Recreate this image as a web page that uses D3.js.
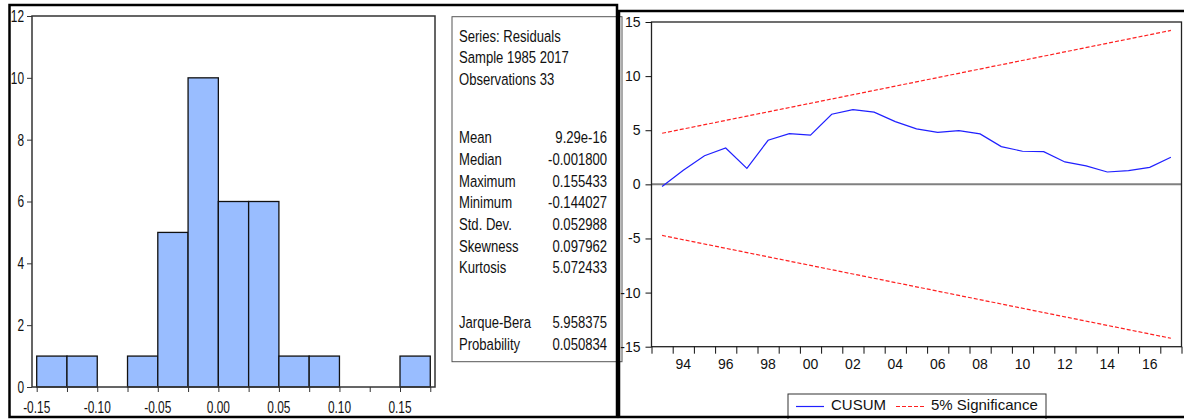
<!DOCTYPE html>
<html>
<head>
<meta charset="utf-8">
<script src="https://cdn.jsdelivr.net/npm/d3@7"></script>
<style>
  body { margin: 0; background: #fff; }
  svg { display: block; font-family: "Liberation Sans", Arial, sans-serif; }
</style>
</head>
<body>
<div id="chart"></div>
<script>
// histogram of residuals (bins of 0.025)
var binStart = [-0.150, -0.125, -0.100, -0.075, -0.050, -0.025, 0.000, 0.025, 0.050, 0.075, 0.100, 0.125, 0.150];
var binCount = [1, 1, 0, 1, 5, 10, 6, 6, 1, 1, 0, 0, 1];
var histXTicks = [-0.15, -0.10, -0.05, 0.00, 0.05, 0.10, 0.15];
var histYTicks = [0, 2, 4, 6, 8, 10, 12];

// summary statistics box
var headLines = ["Series: Residuals", "Sample 1985 2017", "Observations 33"];
var statNames = ["Mean", "Median", "Maximum", "Minimum", "Std. Dev.", "Skewness", "Kurtosis"];
var statValues = ["9.29e-16", "-0.001800", "0.155433", "-0.144027", "0.052988", "0.097962", "5.072433"];
var testNames = ["Jarque-Bera", "Probability"];
var testValues = ["5.958375", "0.050834"];

// CUSUM test
var years = [1993, 1994, 1995, 1996, 1997, 1998, 1999, 2000, 2001, 2002, 2003, 2004,
             2005, 2006, 2007, 2008, 2009, 2010, 2011, 2012, 2013, 2014, 2015, 2016, 2017];
var cusum = [-0.2, 1.3, 2.65, 3.36, 1.48, 4.07, 4.69, 4.54, 6.48, 6.91, 6.67, 5.8,
             5.12, 4.81, 4.97, 4.66, 3.49, 3.06, 3.02, 2.07, 1.7, 1.14, 1.27, 1.57, 2.5];
var boundYears = [1993, 2017];
var upper = [4.72, 14.22];
var lower = [-4.72, -14.22];
var cusumYTicks = [-15, -10, -5, 0, 5, 10, 15];
var yearLabels = ["94", "96", "98", "00", "02", "04", "06", "08", "10", "12", "14", "16"];

var W = 1184, H = 419;
var svg = d3.select("#chart").append("svg")
    .attr("width", W)
    .attr("height", H);

svg.append("rect").attr("width", W).attr("height", H).attr("fill", "white");

// narrow the text horizontally (EViews uses a condensed face)
function squeeze(sel, k) {
  sel.each(function() {
    var t = d3.select(this);
    var x = +t.attr("x") || 0, y = +t.attr("y") || 0;
    t.attr("transform", "translate(" + x + "," + y + ") scale(" + k + ",1)")
     .attr("x", 0).attr("y", 0);
  });
}

// ---------- left panel: histogram ----------
var hx = d3.scaleLinear().domain([-0.15388, 0.1789]).range([32, 435]);
var hy = d3.scaleLinear().domain([0, 12]).range([387, 16]);

var hist = svg.append("g");
var bins = binStart.map((d, i) => ({x0: d, n: binCount[i]})).filter(d => d.n > 0);

hist.selectAll("rect.bar")
  .data(bins)
  .enter().append("rect")
    .attr("class", "bar")
    .attr("x", d => hx(d.x0))
    .attr("y", d => hy(d.n))
    .attr("width", d => hx(d.x0 + 0.025) - hx(d.x0))
    .attr("height", d => hy(0) - hy(d.n))
    .attr("fill", "#99bdff")
    .attr("stroke", "#111")
    .attr("stroke-width", 1.3);

hist.append("rect")
    .attr("x", 32).attr("y", 16)
    .attr("width", 435 - 32).attr("height", 387 - 16)
    .attr("fill", "none")
    .attr("stroke", "#333")
    .attr("stroke-width", 1.5);

var yAxisH = d3.axisLeft(hy).tickValues(histYTicks).tickSize(5).tickPadding(3).tickFormat(d3.format("d"));
hist.append("g")
    .attr("transform", "translate(32,0)")
    .call(yAxisH)
    .call(g => g.select(".domain").remove())
    .call(g => g.selectAll("text").attr("font-size", 17).attr("fill", "#111").attr("font-family", null)
                 .call(squeeze, 0.7))
    .call(g => g.selectAll("line").attr("stroke", "#333"));

var xAxisH = d3.axisBottom(hx).tickValues(d3.range(14).map(i => -0.15 + i * 0.025)).tickSize(5).tickFormat("");
hist.append("g")
    .attr("transform", "translate(0,387)")
    .call(xAxisH)
    .call(g => g.select(".domain").remove())
    .call(g => g.selectAll("line").attr("stroke", "#333"));

hist.selectAll("text.xl")
  .data(histXTicks)
  .enter().append("text")
    .attr("class", "xl")
    .attr("x", d => hx(d))
    .attr("y", 413)
    .attr("text-anchor", "middle")
    .attr("font-size", 17)
    .attr("fill", "#111")
    .text(d => d3.format(".2f")(d).replace("−", "-"))
    .call(squeeze, 0.7);

// stats box
var stats = svg.append("g").attr("font-size", 17).attr("fill", "#111");
stats.append("rect")
    .attr("x", 452).attr("y", 16.7)
    .attr("width", 170).attr("height", 345)
    .attr("fill", "none").attr("stroke", "#555").attr("stroke-width", 1);

var lh = 21.67;
stats.selectAll("text.head").data(headLines).enter().append("text")
    .attr("x", 459).attr("y", (d, i) => 41.7 + i * lh).text(d => d);
stats.selectAll("text.sn").data(statNames).enter().append("text")
    .attr("x", 459).attr("y", (d, i) => 143.3 + i * lh).text(d => d);
stats.selectAll("text.sv").data(statValues).enter().append("text")
    .attr("x", 607).attr("y", (d, i) => 143.3 + i * lh).attr("text-anchor", "end").text(d => d);
stats.selectAll("text.tn").data(testNames).enter().append("text")
    .attr("x", 459).attr("y", (d, i) => 328.3 + i * lh).text(d => d);
stats.selectAll("text.tv").data(testValues).enter().append("text")
    .attr("x", 607).attr("y", (d, i) => 328.3 + i * lh).attr("text-anchor", "end").text(d => d);
stats.selectAll("text").call(squeeze, 0.77);

// left panel outer frame
svg.append("rect")
    .attr("x", 9.5).attr("y", 5)
    .attr("width", 607.5).attr("height", 412)
    .attr("fill", "none").attr("stroke", "#000").attr("stroke-width", 2.5);

// ---------- right panel: CUSUM ----------
var cx = d3.scaleLinear().domain([1993, 2018]).range([651.5, 1181.5]);
var cy = d3.scaleLinear().domain([-15, 15]).range([346.7, 22]);

var cus = svg.append("g");

cus.append("line")
    .attr("x1", cx(1993)).attr("x2", cx(2018))
    .attr("y1", cy(0)).attr("y2", cy(0))
    .attr("stroke", "#808080").attr("stroke-width", 2);

var line = d3.line().x(d => cx(d[0] + 0.5)).y(d => cy(d[1]));

[upper, lower].forEach(function(b) {
  cus.append("path")
      .datum(boundYears.map((y, i) => [y, b[i]]))
      .attr("d", line)
      .attr("fill", "none").attr("stroke", "#ff2020").attr("stroke-width", 1.2)
      .attr("stroke-dasharray", "4,2");
});
cus.append("path")
    .datum(years.map((y, i) => [y, cusum[i]]))
    .attr("d", line)
    .attr("fill", "none").attr("stroke", "#2020ff").attr("stroke-width", 1.2);

cus.append("rect")
    .attr("x", cx(1993)).attr("y", 22)
    .attr("width", cx(2018) - cx(1993)).attr("height", 346.7 - 22)
    .attr("fill", "none").attr("stroke", "#222").attr("stroke-width", 1.3);

var yAxisC = d3.axisLeft(cy).tickValues(cusumYTicks).tickSize(6).tickPadding(5).tickFormat(d => String(d));
cus.append("g")
    .attr("transform", "translate(" + cx(1993) + ",0)")
    .call(yAxisC)
    .call(g => g.select(".domain").remove())
    .call(g => g.selectAll("text").attr("font-size", 14).attr("fill", "#111").attr("font-family", null))
    .call(g => g.selectAll("line").attr("stroke", "#111"));

var xAxisC = d3.axisBottom(cx).tickValues(d3.range(1993, 2019)).tickSize(7).tickFormat("");
cus.append("g")
    .attr("transform", "translate(0,346.7)")
    .call(xAxisC)
    .call(g => g.select(".domain").remove())
    .call(g => g.selectAll("line").attr("stroke", "#111"));

cus.selectAll("text.yl")
  .data(yearLabels)
  .enter().append("text")
    .attr("class", "yl")
    .attr("x", (d, i) => cx(1994 + 2 * i + 0.5))
    .attr("y", 369)
    .attr("text-anchor", "middle")
    .attr("font-size", 14)
    .attr("fill", "#111")
    .text(d => d);

// legend
var leg = cus.append("g");
leg.append("rect")
    .attr("x", 788).attr("y", 394)
    .attr("width", 258).attr("height", 30)
    .attr("fill", "white").attr("stroke", "#333").attr("stroke-width", 1);
leg.append("line")
    .attr("x1", 796).attr("x2", 824).attr("y1", 406.5).attr("y2", 406.5)
    .attr("stroke", "#2020ff").attr("stroke-width", 1.2);
leg.append("text").attr("x", 831).attr("y", 410).attr("font-size", 15).attr("fill", "#111").text("CUSUM");
leg.append("line")
    .attr("x1", 896).attr("x2", 925).attr("y1", 406.5).attr("y2", 406.5)
    .attr("stroke", "#ff2020").attr("stroke-width", 1.2).attr("stroke-dasharray", "4,2");
leg.append("text").attr("x", 931).attr("y", 410).attr("font-size", 15).attr("fill", "#111").text("5% Significance");

// right panel outer frame
svg.append("rect")
    .attr("x", 619).attr("y", 11)
    .attr("width", 620).attr("height", 406)
    .attr("fill", "none").attr("stroke", "#000").attr("stroke-width", 2.5);
</script>
</body>
</html>
